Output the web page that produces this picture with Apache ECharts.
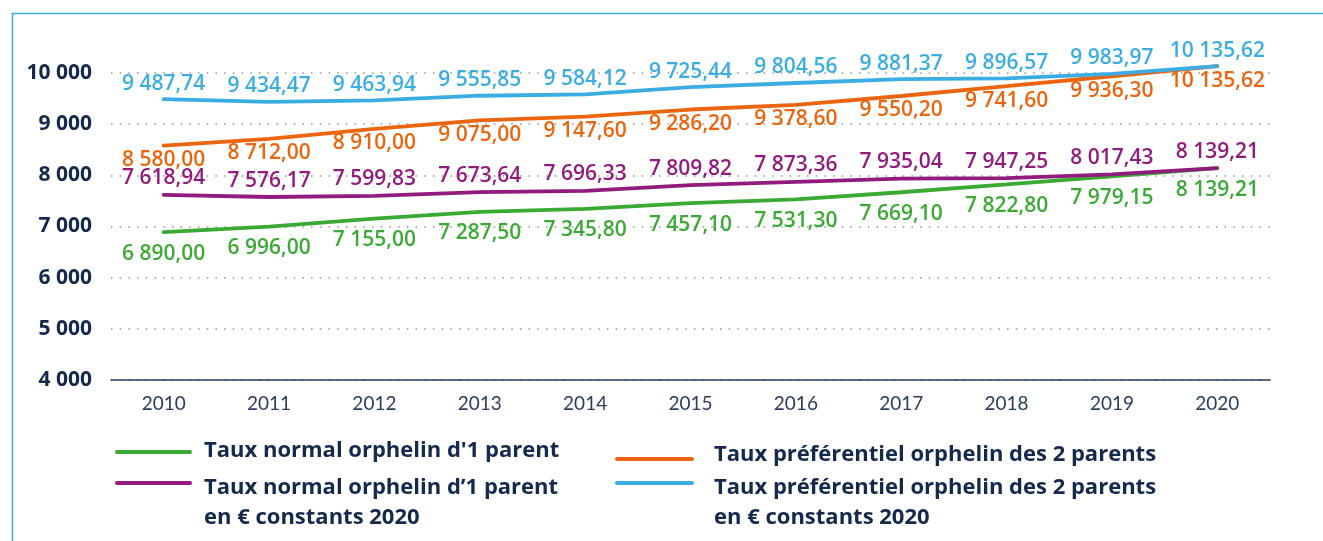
<!DOCTYPE html>
<html>
<head>
<meta charset="utf-8">
<script src="https://cdn.jsdelivr.net/npm/echarts@6/dist/echarts.min.js"></script>
<style>
  html, body { margin: 0; padding: 0; background: #ffffff; }
  #chart { width: 1323px; height: 541px; }
</style>
</head>
<body>
<div id="chart"></div>
<script>
// Years on the horizontal axis
const years = ['2010', '2011', '2012', '2013', '2014', '2015', '2016', '2017', '2018', '2019', '2020'];

// Annual amounts (€)
const tauxNormal = [6890.00, 6996.00, 7155.00, 7287.50, 7345.80, 7457.10, 7531.30, 7669.10, 7822.80, 7979.15, 8139.21];
const tauxNormalConstants = [7618.94, 7576.17, 7599.83, 7673.64, 7696.33, 7809.82, 7873.36, 7935.04, 7947.25, 8017.43, 8139.21];
const tauxPref = [8580.00, 8712.00, 8910.00, 9075.00, 9147.60, 9286.20, 9378.60, 9550.20, 9741.60, 9936.30, 10135.62];
const tauxPrefConstants = [9487.74, 9434.47, 9463.94, 9555.85, 9584.12, 9725.44, 9804.56, 9881.37, 9896.57, 9983.97, 10135.62];

// Series names
const names = [
  "Taux normal orphelin d'1 parent",
  "Taux normal orphelin d’1 parent\nen € constants 2020",
  "Taux préférentiel orphelin des 2 parents",
  "Taux préférentiel orphelin des 2 parents\nen € constants 2020"
];

const GREEN = '#3aaa35';
const PURPLE = '#921c7e';
const ORANGE = '#eb650e';
const BLUE = '#3badE2';
const NAVY = '#14294b';
const FONT = "'Open Sans', Lato, sans-serif";

// French number format: "9 487,74"
function frNum(v, decimals) {
  const s = v.toFixed(decimals);
  const parts = s.split('.');
  const intPart = parts[0].replace(/\B(?=(\d{3})+(?!\d))/g, ' ');
  return parts.length > 1 ? intPart + ',' + parts[1] : intPart;
}

function lineSeries(name, data, color, pos, dist) {
  return {
    name: name,
    type: 'line',
    data: data,
    showSymbol: true,
    symbol: 'circle',
    symbolSize: 2,
    clip: false,
    lineStyle: { color: color, width: 3.8, cap: 'round' },
    itemStyle: { color: color },
    label: {
      show: true,
      position: pos,
      distance: dist,
      color: color,
      fontFamily: FONT,
      fontSize: 21,
      fontWeight: 600,
      formatter: p => frNum(p.value, 2)
    },
    emphasis: { disabled: true },
    z: 3
  };
}

const chart = echarts.init(document.getElementById('chart'), null, { renderer: 'canvas' });

const legendFont = "bold 22px 'Open Sans', Lato, sans-serif";

chart.setOption({
  backgroundColor: '#ffffff',
  animation: false,
  grid: { left: 111, right: 53, top: 73, bottom: 161, containLabel: false },
  xAxis: {
    type: 'category',
    data: years,
    boundaryGap: true,
    axisLine: { show: true, lineStyle: { color: '#2c3c5c', width: 1.5 } },
    axisTick: { show: false },
    axisLabel: { color: '#2c3c5c', fontFamily: "'Liberation Sans Narrow', Lato, sans-serif", fontSize: 19, margin: 14 },
    splitLine: { show: false }
  },
  yAxis: {
    type: 'value',
    min: 4000,
    max: 10000,
    interval: 1000,
    axisLine: { show: false },
    axisTick: { show: false },
    axisLabel: {
      color: NAVY,
      fontFamily: FONT,
      fontWeight: 'bold',
      fontSize: 21,
      margin: 19,
      formatter: v => frNum(v, 0)
    },
    splitLine: { show: true, lineStyle: { color: '#959595', width: 1.5, type: [1.5, 7.2] } }
  },
  series: [
    lineSeries(names[0], tauxNormal, GREEN, 'bottom', 10),
    lineSeries(names[1], tauxNormalConstants, PURPLE, 'top', 5),
    lineSeries(names[2], tauxPref, ORANGE, 'bottom', 3),
    lineSeries(names[3], tauxPrefConstants, BLUE, 'top', 4)
  ],
  graphic: [
    // Frame
    { type: 'rect', left: 10, top: 11, shape: { x: 0, y: 0, width: 1400, height: 600 },
      style: { fill: 'none', stroke: '#3badE2', lineWidth: 1.5 }, silent: true },
    // Legend entries
    { type: 'line', shape: { x1: 117, y1: 452, x2: 190, y2: 452 }, style: { stroke: GREEN, lineWidth: 4, lineCap: 'round' } },
    { type: 'text', x: 204, y: 451, style: { text: names[0], font: legendFont, fill: NAVY, textVerticalAlign: 'middle' } },
    { type: 'line', shape: { x1: 117, y1: 483, x2: 190, y2: 483 }, style: { stroke: PURPLE, lineWidth: 4, lineCap: 'round' } },
    { type: 'text', x: 204, y: 473, style: { text: names[1], font: legendFont, fill: NAVY, lineHeight: 30 } },
    { type: 'line', shape: { x1: 617, y1: 459, x2: 692, y2: 459 }, style: { stroke: ORANGE, lineWidth: 4, lineCap: 'round' } },
    { type: 'text', x: 714, y: 455, style: { text: names[2], font: legendFont, fill: NAVY, textVerticalAlign: 'middle' } },
    { type: 'line', shape: { x1: 617, y1: 483, x2: 692, y2: 483 }, style: { stroke: BLUE, lineWidth: 4, lineCap: 'round' } },
    { type: 'text', x: 714, y: 473, style: { text: names[3], font: legendFont, fill: NAVY, lineHeight: 30 } }
  ]
});
</script>
</body>
</html>
